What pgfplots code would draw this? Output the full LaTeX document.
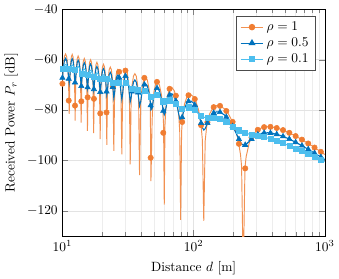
\documentclass[border=0pt]{standalone}
\usepackage{pgfplots}
\usepackage{pgfplotstable}
\pgfplotsset{compat=1.18}
\definecolor{ocol}{RGB}{240,125,50}
\definecolor{bcol}{RGB}{0,114,189}
\definecolor{lcol}{RGB}{77,190,238}
\pgfplotstableread{
d o b l
10.00 -69.5 -67.16 -63.5
10.16 -62.31 -63.18 -62.95
10.36 -58.70 -60.28 -62.2
10.56 -57.70 -59.4 -61.89
10.77 -58.70 -60.28 -62.2
10.98 -62.31 -63.18 -62.95
11.12 -67.9 -66.48 -63.44
11.27 -81.5 -69.04 -63.74
11.39 -68.1 -66.68 -63.64
11.51 -62.51 -63.38 -63.15
11.69 -58.9 -60.48 -62.4
11.87 -57.9 -59.6 -62.09
12.06 -58.9 -60.48 -62.4
12.24 -62.51 -63.38 -63.15
12.37 -68.1 -66.68 -63.64
12.50 -84.2 -69.44 -64.14
12.63 -68.7 -67.28 -64.24
12.77 -63.11 -63.98 -63.75
12.97 -59.5 -61.08 -63.0
13.18 -58.5 -60.2 -62.69
13.39 -59.5 -61.08 -63.0
13.60 -63.11 -63.98 -63.75
13.75 -68.7 -67.28 -64.24
13.89 -84.9 -70.24 -64.94
14.05 -69.7 -68.28 -65.24
14.20 -64.11 -64.98 -64.75
14.44 -60.5 -62.08 -64.0
14.68 -59.5 -61.2 -63.69
14.93 -60.5 -62.08 -64.0
15.18 -64.11 -64.98 -64.75
15.35 -69.7 -68.28 -65.24
15.52 -88.2 -70.99 -65.69
15.69 -70.2 -68.78 -65.74
15.86 -64.61 -65.48 -65.25
16.12 -61.0 -62.58 -64.5
16.39 -60.0 -61.7 -64.19
16.66 -61.0 -62.58 -64.5
16.93 -64.61 -65.48 -65.25
17.12 -70.2 -68.78 -65.74
17.30 -89.1 -71.74 -66.44
17.50 -71.2 -69.78 -66.74
17.70 -65.61 -66.48 -66.25
18.01 -62.0 -63.58 -65.5
18.32 -61.0 -62.7 -65.19
18.64 -62.0 -63.58 -65.5
18.96 -65.61 -66.48 -66.25
19.18 -71.2 -69.78 -66.74
19.40 -91.5 -72.64 -67.34
19.63 -72.0 -70.58 -67.54
19.85 -66.41 -67.28 -67.05
20.20 -62.8 -64.38 -66.3
20.56 -61.8 -63.5 -65.99
20.92 -62.8 -64.38 -66.3
21.29 -66.41 -67.28 -67.05
21.53 -72.0 -70.58 -67.54
21.79 -93.8 -73.79 -68.54
22.06 -73.1 -72.08 -69.14
22.33 -67.51 -68.78 -68.65
22.74 -63.9 -65.88 -67.9
23.17 -62.9 -65.0 -67.59
23.60 -63.9 -65.88 -67.9
24.04 -67.51 -68.78 -68.65
24.34 -73.1 -72.08 -69.14
24.64 -96.2 -75.04 -69.84
24.99 -74.1 -73.08 -70.14
25.34 -68.51 -69.78 -69.65
25.88 -64.9 -66.88 -68.9
26.43 -63.9 -66.0 -68.59
27.00 -64.9 -66.88 -68.9
27.57 -68.51 -69.78 -69.65
27.96 -74.1 -73.08 -70.14
28.36 -97.5 -75.69 -70.49
28.78 -74.4 -73.38 -70.44
29.21 -68.81 -70.08 -69.95
29.86 -65.2 -67.18 -69.2
30.53 -64.2 -66.3 -68.89
31.21 -65.2 -67.18 -69.2
31.91 -68.81 -70.08 -69.95
32.39 -74.4 -73.38 -70.44
32.87 -101.5 -76.69 -71.54
33.41 -75.7 -75.08 -72.24
33.96 -70.11 -71.78 -71.75
34.81 -66.5 -68.88 -71.0
35.67 -65.5 -68.0 -70.69
36.55 -66.5 -68.88 -71.0
37.46 -70.11 -71.78 -71.75
38.08 -75.7 -75.08 -72.24
38.71 -105.8 -78.29 -73.19
39.53 -77.2 -76.58 -73.74
40.36 -71.61 -73.28 -73.25
41.65 -68.0 -70.38 -72.5
42.97 -67.0 -69.5 -72.19
44.34 -68.0 -70.38 -72.5
45.76 -71.61 -73.28 -73.25
46.72 -77.2 -76.58 -73.74
47.3 -108.2 -79.9 -74.8
48.28 -84.07 -79.22 -74.84
48.78 -78.24 -77.62 -74.78
49.79 -72.83 -74.50 -74.47
51.40 -69.50 -71.88 -74.00
53.11 -68.78 -71.28 -73.97
54.94 -70.08 -72.46 -74.58
56.90 -73.99 -75.66 -75.63
58.29 -79.79 -79.17 -76.33
59.01 -85.81 -80.96 -76.58
59.75 -117.5 -81.85 -76.75
60.51 -86.03 -81.18 -76.80
61.28 -80.23 -79.61 -76.77
62.89 -74.86 -76.53 -76.50
65.48 -71.60 -73.98 -76.10
68.29 -70.97 -73.47 -76.16
71.34 -72.35 -74.73 -76.85
74.69 -76.36 -78.03 -78.00
77.10 -82.22 -81.60 -78.76
78.36 -88.27 -83.42 -79.04
79.67 -123.5 -84.35 -79.25
81.02 -88.56 -83.71 -79.33
82.41 -82.80 -82.18 -79.34
83.86 -79.61 -80.56 -79.26
85.36 -77.52 -79.19 -79.16
88.52 -75.06 -77.31 -78.94
91.92 -73.98 -76.43 -78.88
95.60 -73.89 -76.39 -79.08
99.58 -74.67 -77.12 -79.57
103.91 -76.45 -78.70 -80.33
108.64 -79.61 -81.28 -81.25
111.16 -82.06 -83.01 -81.71
113.81 -85.60 -84.98 -82.14
116.59 -91.72 -86.87 -82.49
119.5 -123.9 -87.87 -82.77
122.56 -92.16 -87.31 -82.93
125.79 -86.47 -85.85 -83.01
129.19 -83.37 -84.32 -83.02
132.78 -81.35 -83.02 -82.99
140.59 -79.08 -81.33 -82.96
149.38 -78.20 -80.65 -83.10
159.33 -78.33 -80.83 -83.52
170.71 -79.36 -81.81 -84.26
183.85 -81.41 -83.66 -85.29
199.17 -84.87 -86.54 -86.51
207.83 -87.49 -88.44 -87.14
217.27 -91.22 -90.60 -87.76
227.62 -97.53 -92.68 -88.30
232.04 -102.12 -93.33 -88.51
239.0 -145 -93.89 -88.79
246.4 -102.66 -93.87 -89.05
251.6 -98.40 -93.55 -89.17
265.6 -92.96 -92.34 -89.50
281.2 -90.12 -91.07 -89.77
298.75 -88.40 -90.07 -90.04
318.7 -87.36 -89.40 -90.33
341.4 -86.79 -89.04 -90.67
367.7 -86.59 -88.97 -91.09
398.3 -86.72 -89.17 -91.62
434.5 -87.15 -89.63 -92.27
478.0 -87.87 -90.37 -93.06
531.1 -88.89 -91.37 -94.01
597.5 -90.24 -92.69 -95.14
682.9 -91.97 -94.35 -96.47
796.7 -94.15 -96.40 -98.03
885.2 -95.72 -97.86 -99.09
1000 -97.60 -99.58 -100.32
}\linedata
\pgfplotstableread{
d o b l
10.00 -69.5 -67.16 -63.5
11.170 -76.2 -67.57 -63.54
12.477 -78.2 -69.02 -63.83
13.936 -76.5 -70.46 -65.42
15.567 -74.9 -70.96 -65.92
17.387 -75.5 -71.68 -66.9
19.422 -81.3 -72.8 -67.5
21.694 -80.9 -72.62 -67.71
24.231 -70.55 -70.79 -68.98
27.066 -64.8 -67.12 -68.98
30.233 -64.3 -66.47 -68.96
33.770 -71.55 -72.59 -71.68
37.721 -72.5 -73.04 -71.97
42.133 -67.2 -69.84 -72.32
47.062 -98.9 -78.08 -74.54
52.570 -68.78 -71.27 -73.92
58.719 -89.0 -80.29 -76.49
65.588 -71.54 -73.92 -76.09
73.259 -74.27 -76.37 -77.49
81.830 -84.70 -82.86 -79.34
91.404 -74.08 -76.51 -78.87
102.10 -75.60 -77.95 -80.00
114.04 -85.98 -85.15 -82.17
127.38 -84.81 -85.10 -83.02
142.28 -78.80 -81.11 -82.97
158.92 -78.30 -80.80 -83.49
177.52 -80.32 -82.69 -84.78
198.28 -84.65 -86.36 -86.45
221.47 -93.36 -91.51 -88.00
247.38 -103.1 -93.81 -89.06
276.32 -90.81 -91.43 -89.69
308.64 -87.80 -89.69 -90.18
344.75 -86.74 -89.01 -90.72
385.07 -86.63 -89.05 -91.38
430.11 -87.08 -89.57 -92.19
480.43 -87.91 -90.41 -93.10
536.64 -89.00 -91.48 -94.11
599.41 -90.28 -92.73 -95.17
669.53 -91.70 -94.09 -96.27
747.85 -93.23 -95.54 -97.38
835.35 -94.85 -97.05 -98.50
933.07 -96.53 -98.60 -99.62
}\markdata
\begin{document}
\begin{tikzpicture}
\begin{axis}[
  scale only axis,
  width=195.5pt, height=169pt,
  xmode=log,
  xmin=10, xmax=1000,
  ymin=-130, ymax=-40,
  ytick={-120,-100,-80,-60,-40},
  xtick={10,100,1000},
  xmajorgrids, xminorgrids, ymajorgrids,
  major grid style={gray!22, line width=0.4pt},
  minor grid style={gray!14, line width=0.3pt},
  xlabel={Distance $d$ [m]},
  ylabel={Received Power $P_r$ [dB]},
  legend style={at={(0.965,0.97)}, anchor=north east, draw=black!70, fill=white, cells={anchor=west}, font=\normalsize},
  legend cell align=left,
  clip=true,
]
\addlegendimage{ocol!85, line width=0.8pt, mark=*, mark size=2pt, mark options={solid, fill=ocol, draw=ocol}}
\addlegendentry{$\rho=1$}
\addlegendimage{bcol, line width=0.8pt, mark=triangle*, mark size=2.3pt, mark options={solid, fill=bcol, draw=bcol}}
\addlegendentry{$\rho=0.5$}
\addlegendimage{lcol, line width=0.8pt, mark=square*, mark size=1.9pt, mark options={solid, fill=lcol, draw=lcol}}
\addlegendentry{$\rho=0.1$}
\addplot[ocol!85, line width=0.7pt, no marks, forget plot] table[x=d, y=o] {\linedata};
\addplot[only marks, mark=*, mark size=2pt, draw=ocol, fill=ocol, forget plot] table[x=d, y=o] {\markdata};
\addplot[bcol, line width=0.8pt, no marks, forget plot] table[x=d, y=b] {\linedata};
\addplot[only marks, mark=triangle*, mark size=2.3pt, draw=bcol, fill=bcol, forget plot] table[x=d, y=b] {\markdata};
\addplot[lcol, line width=0.8pt, no marks, forget plot] table[x=d, y=l] {\linedata};
\addplot[only marks, mark=square*, mark size=1.9pt, draw=lcol, fill=lcol, forget plot] table[x=d, y=l] {\markdata};
\end{axis}
\end{tikzpicture}
\end{document}
